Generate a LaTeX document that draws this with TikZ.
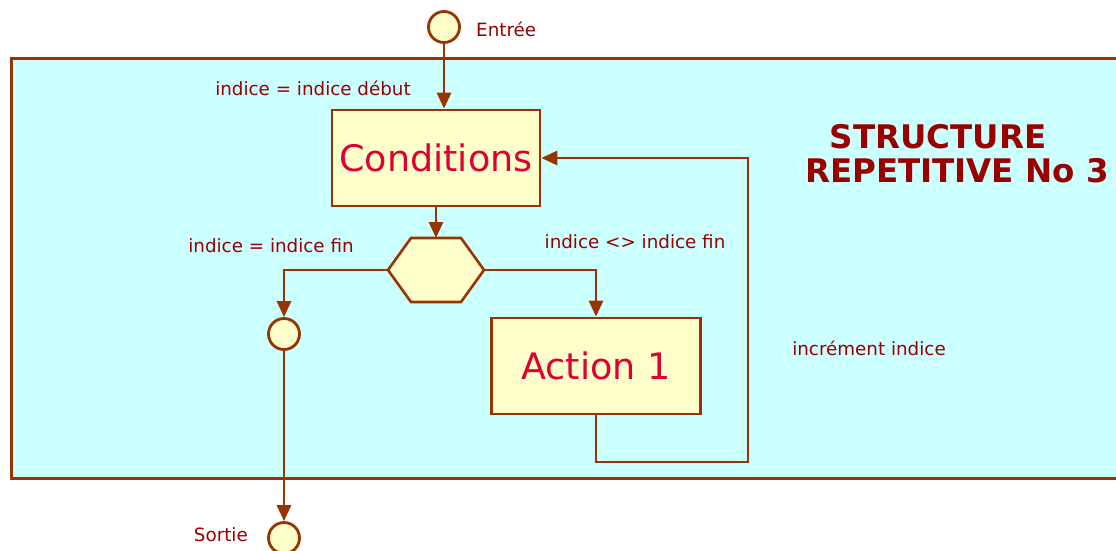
\documentclass[tikz,border=0pt]{standalone}
\usepackage{fontspec}
\setmainfont{DejaVu Sans}
\usetikzlibrary{arrows.meta,shapes.geometric}
\definecolor{lnc}{HTML}{993300}
\definecolor{bgc}{HTML}{CCFFFF}
\definecolor{fillc}{HTML}{FFFFCC}
\definecolor{txc}{HTML}{990000}
\definecolor{bigc}{HTML}{DD0033}
\tikzset{
  line/.style={draw=lnc,line width=2.8pt},
  arr/.style={line,-{Triangle[length=16pt,width=14pt]}},
  term/.style={circle,draw=lnc,fill=fillc,line width=2.8pt,minimum size=31pt,inner sep=0pt},
  boxnode/.style={rectangle,draw=lnc,fill=fillc,line width=2.6pt,inner sep=0pt,text=bigc,font=\fontsize{36.5}{40}\selectfont},
  lab/.style={text=txc,font=\fontsize{18.3}{22}\selectfont,inner sep=0pt},
  ttl/.style={text=txc,font=\bfseries\fontsize{32.5}{34}\selectfont,inner sep=0pt},
}
\begin{document}
\begin{tikzpicture}[x=1pt,y=-1pt]
\useasboundingbox (0,0) rectangle (1116,550);
\fill[white] (0,0) rectangle (1116,550);
\path[draw=lnc,fill=bgc,line width=3pt] (11,58) rectangle (1140,478);
\node[term] (in) at (444,27) {};
\node[lab,anchor=west] (inlab) at (476,29) {Entrée};
\node[boxnode,minimum width=208pt,minimum height=96pt] (cond) at (436,158) {Conditions};
\node[lab] (init) at (313,88) {indice = indice début};
% hexagon
\coordinate (hw) at (388,270);
\coordinate (htl) at (411,238);
\coordinate (htr) at (461,238);
\coordinate (he) at (484,270);
\coordinate (hbr) at (461,302);
\coordinate (hbl) at (411,302);
\coordinate (htop) at (436,238);
\path[draw=lnc,fill=fillc,line width=2.6pt,line join=miter] (hw) -- (htl) -- (htr) -- (he) -- (hbr) -- (hbl) -- cycle;
\node[boxnode,minimum width=209pt,minimum height=96pt] (act) at (596,366) {Action 1};
\node[term] (mid) at (284,334) {};
\node[term] (out) at (284,538) {};
\node[lab,anchor=east] (outlab) at (248,535) {Sortie};
\node[lab] (fin) at (271,246) {indice = indice fin};
\node[lab] (nfin) at (635,242) {indice <> indice fin};
\node[lab] (inc) at (869,348) {incrément indice};
\node[ttl] (title1) at (938,137) {STRUCTURE};
\node[ttl] (title2) at (957,171) {REPETITIVE No 3};
\coordinate (r1) at (596,270);
\coordinate (l1) at (284,270);
\coordinate (b1) at (596,462);
\coordinate (b2) at (748,462);
\coordinate (b3) at (748,158);
\draw[arr] (in.south) -- (in.south |- cond.north);
\draw[arr] (cond.south) -- (htop);
\draw[arr] (he) -- (r1) -- (act.north);
\draw[arr] (hw) -- (l1) -- (mid.north);
\draw[arr] (act.south) -- (b1) -- (b2) -- (b3) -- (cond.east);
\draw[arr] (mid.south) -- (out.north);
\end{tikzpicture}
\end{document}
